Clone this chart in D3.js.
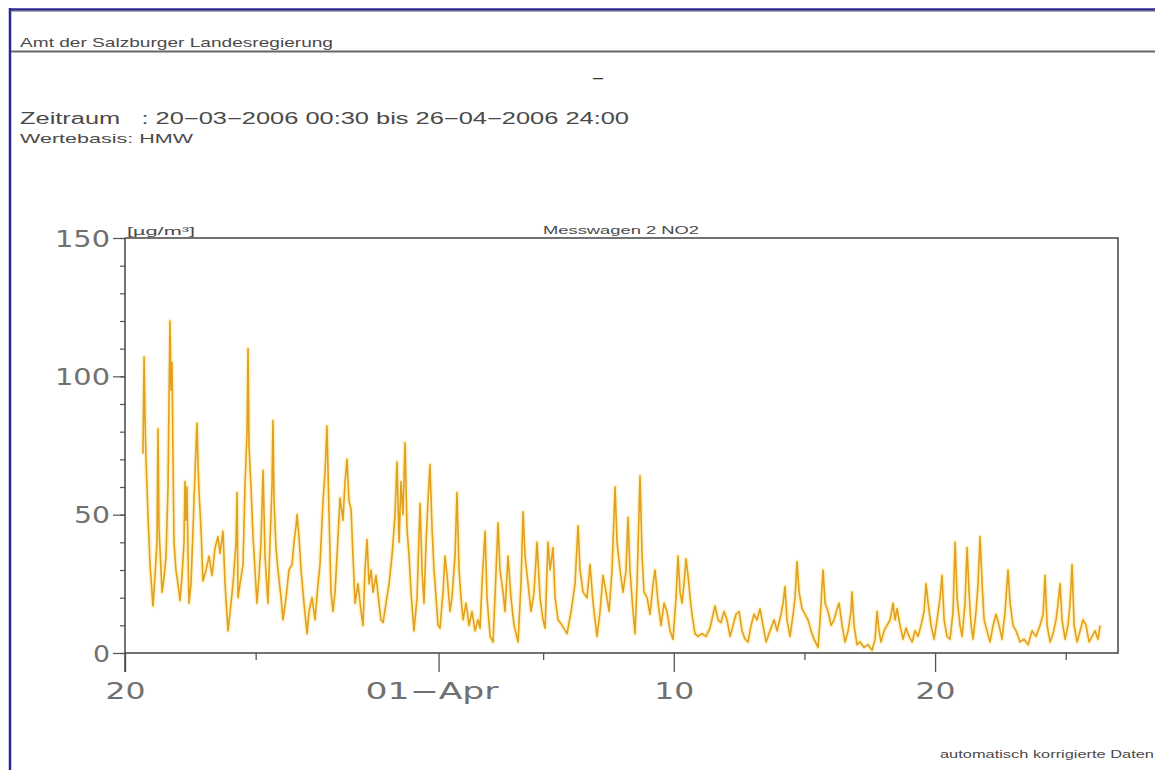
<!DOCTYPE html>
<html>
<head>
<meta charset="utf-8">
<script src="https://cdn.jsdelivr.net/npm/d3@7"></script>
<style>
  body { margin: 0; background: #fff; }
  svg { display: block; font-family: "Liberation Sans", Arial, sans-serif; }
  text { white-space: pre; }
</style>
</head>
<body>
<div id="chart"></div>
<script>
// hours after 20-03-2006 00:00 and NO2 half hour values
var hoursSinceStart = [
  16.5, 17.5, 18.4, 19.3, 21.1, 23.0, 24.8, 25.7, 27.6, 29.4, 30.3, 31.2, 33.1, 34.0, 35.8, 37.7, 39.5, 41.3, 42.3, 43.2,
  44.1, 45.0, 46.8, 48.7, 50.5, 52.4, 54.2, 55.1, 56.0, 56.9, 57.9, 58.8, 60.6, 62.5, 64.3, 66.1, 67.1, 68.0, 69.8, 71.6,
  74.4, 77.2, 79.9, 82.7, 85.4, 87.3, 90.0, 91.9, 94.6, 97.4, 99.2, 102.0, 102.9, 103.8, 105.6, 108.4, 110.2, 112.1, 113.0, 113.9,
  115.7, 117.6, 119.4, 121.2, 123.1, 124.9, 126.8, 128.6, 131.3, 133.2, 135.0, 135.9, 136.9, 138.7, 140.5, 143.3, 145.1, 147.9, 150.6, 153.4,
  155.2, 157.1, 158.0, 159.8, 161.7, 164.4, 167.2, 169.0, 171.8, 174.5, 177.3, 179.1, 181.9, 183.7, 185.5, 187.4, 189.2, 191.0, 192.9, 194.7,
  197.5, 200.2, 202.1, 203.9, 205.7, 207.6, 209.4, 211.3, 214.0, 216.8, 218.6, 220.4, 222.3, 224.1, 226.0, 227.8, 230.5, 233.3, 235.1, 237.0,
  239.7, 242.5, 245.2, 248.0, 249.8, 251.7, 253.5, 255.3, 257.2, 259.0, 260.9, 262.7, 265.4, 268.2, 271.0, 272.8, 274.6, 276.5, 278.3, 280.1,
  282.0, 283.8, 285.7, 287.5, 289.3, 292.1, 293.9, 295.8, 298.5, 300.3, 303.1, 304.9, 306.8, 308.6, 310.5, 313.2, 316.0, 318.7, 321.5, 324.2,
  326.1, 327.9, 330.7, 332.5, 335.3, 338.0, 339.8, 342.6, 344.4, 347.2, 349.0, 351.8, 354.5, 357.3, 361.0, 363.7, 365.6, 367.4, 370.2, 372.9,
  375.7, 378.4, 381.2, 383.9, 385.8, 388.5, 390.4, 393.1, 395.0, 397.7, 401.4, 406.0, 409.7, 413.3, 416.1, 417.9, 420.7, 424.3, 427.1, 429.9,
  433.5, 436.3, 439.0, 441.8, 444.6, 447.3, 450.1, 451.9, 454.7, 457.4, 460.2, 462.0, 463.8, 466.6, 468.4, 470.3, 473.0, 474.9, 476.7, 479.5,
  482.2, 485.0, 486.8, 489.6, 492.3, 495.1, 497.8, 500.6, 503.3, 506.1, 507.9, 509.8, 511.6, 513.4, 515.3, 517.1, 519.0, 520.8, 523.5, 526.3,
  530.0, 533.6, 537.3, 540.1, 541.9, 544.7, 547.4, 550.2, 552.9, 555.7, 558.4, 561.2, 564.0, 566.7, 569.5, 572.2, 575.0, 577.7, 580.5, 583.2,
  586.0, 588.8, 592.4, 596.1, 598.9, 602.5, 604.4, 606.2, 608.0, 610.8, 613.6, 615.4, 617.2, 619.1, 621.8, 624.6, 627.3, 630.1, 632.8, 636.5,
  638.4, 641.1, 643.0, 645.7, 648.5, 651.2, 654.0, 655.8, 658.6, 661.3, 664.1, 666.8, 667.7, 669.6, 672.3, 675.1, 678.8, 682.4, 686.1, 688.9,
  690.7, 692.5, 694.4, 697.1, 699.9, 702.7, 705.4, 707.2, 709.1, 711.8, 714.6, 717.3, 720.1, 722.9, 725.6, 728.4, 731.1, 733.9, 735.7, 737.6,
  740.3, 743.1, 745.8, 748.6, 750.4, 752.3, 755.0, 757.8, 760.5, 762.4, 764.2, 766.9, 768.8, 771.5, 773.4, 775.2, 777.1, 778.9, 781.6, 783.5,
  785.3, 787.2, 789.0, 791.7, 794.5, 797.3, 800.0, 802.8, 805.5, 808.3, 811.0, 812.9, 815.6, 818.4, 822.1, 825.7, 829.4, 833.1, 836.7, 840.4,
  843.2, 845.0, 846.9, 849.6, 852.4, 855.1, 857.0, 858.8, 860.6, 863.4, 866.1, 868.0, 869.8, 871.7, 874.4, 877.2, 879.9, 882.7, 885.4, 888.2,
  890.9, 893.7, 895.5
];
var no2Values = [
  72, 107, 85, 70, 50, 32, 22, 17, 28, 40, 81, 45, 30, 22, 27, 35, 60, 120, 95, 105,
  70, 40, 30, 25, 19, 28, 40, 62, 48, 60, 35, 18, 25, 45, 65, 83, 68, 58, 45, 26,
  30, 35, 28, 38, 42, 36, 44, 25, 8, 18, 25, 40, 58, 20, 25, 32, 60, 80, 110, 75,
  60, 42, 30, 18, 28, 40, 66, 35, 18, 40, 60, 84, 55, 38, 30, 20, 12, 20, 30, 32,
  40, 46, 50, 42, 30, 18, 7, 15, 20, 12, 25, 32, 55, 65, 82, 50, 22, 15, 22, 35,
  56, 48, 62, 70, 55, 52, 35, 18, 25, 15, 10, 30, 41, 25, 30, 22, 28, 18, 12, 11,
  18, 25, 35, 50, 69, 40, 62, 50, 76, 45, 35, 22, 8, 20, 54, 30, 18, 40, 55, 68,
  45, 30, 20, 10, 9, 22, 35, 28, 15, 20, 35, 58, 30, 20, 12, 18, 10, 15, 8, 12,
  9, 25, 44, 20, 6, 4, 20, 47, 30, 22, 15, 35, 20, 10, 4, 25, 51, 35, 25, 15,
  22, 40, 20, 12, 9, 40, 30, 38, 20, 12, 10, 7, 15, 25, 46, 30, 22, 20, 32, 18,
  6, 15, 28, 22, 15, 30, 60, 40, 30, 22, 30, 49, 30, 15, 7, 25, 64, 35, 22, 20,
  14, 25, 30, 18, 10, 18, 15, 8, 5, 20, 35, 22, 18, 25, 34, 28, 20, 14, 7, 6,
  7, 6, 9, 14, 17, 12, 11, 15, 12, 6, 10, 14, 15, 8, 5, 4, 10, 14, 12, 16,
  10, 4, 8, 12, 8, 14, 18, 24, 12, 6, 14, 20, 33, 22, 16, 14, 12, 8, 5, 2,
  12, 30, 18, 15, 10, 12, 16, 18, 10, 4, 8, 15, 22, 10, 3, 4, 2, 3, 1, 5,
  15, 8, 4, 8, 10, 12, 18, 12, 16, 10, 5, 9, 6, 4, 8, 6, 10, 15, 25, 18,
  10, 5, 12, 20, 28, 12, 6, 5, 15, 40, 20, 10, 6, 18, 38, 22, 10, 5, 15, 25,
  42, 25, 12, 8, 4, 10, 14, 10, 5, 15, 30, 18, 10, 8, 4, 5, 3, 8, 6, 10,
  14, 28, 10, 4, 7, 12, 18, 25, 12, 5, 10, 18, 32, 10, 4, 8, 12, 10, 4, 6,
  8, 5, 10
];
var startDate = new Date(2006, 2, 20, 0, 0);
var endDate = new Date(2006, 3, 27, 0, 0);
var xMajorTicks = [new Date(2006, 2, 20), new Date(2006, 3, 1), new Date(2006, 3, 10), new Date(2006, 3, 20)];
var xMinorTicks = [new Date(2006, 2, 25), new Date(2006, 3, 5), new Date(2006, 3, 15), new Date(2006, 3, 25)];
var yMajorTicks = [0, 50, 100, 150];
var yMinorTicks = d3.range(0, 151, 10);

var headerText = "Amt der Salzburger Landesregierung";
var periodText = "Zeitraum   : 20\u221203\u22122006 00:30 bis 26\u221204\u22122006 24:00";
var basisText = "Wertebasis: HMW";
var unitText = "[\u00b5g/m\u00b3]";
var seriesTitle = "Messwagen 2 NO2";
var footerText = "automatisch korrigierte Daten";

(function() {
  var width = 1155, height = 770;
  var margin = {left: 125, right: 37, top: 238, bottom: 117};
  var inkColor = "#555";
  var bigFont = "DejaVu Sans, Verdana, sans-serif";

  var svg = d3.select("#chart").append("svg")
    .attr("width", width)
    .attr("height", height);

  // wide plotter lettering: stretch glyphs to the measured width
  function label(x, y, size, len, txt, anchor) {
    return svg.append("text")
      .attr("x", x).attr("y", y)
      .attr("font-size", size)
      .attr("text-anchor", anchor || "start")
      .attr("textLength", len).attr("lengthAdjust", "spacingAndGlyphs")
      .attr("fill", "#4a4a4a")
      .text(txt);
  }

  // page frame
  svg.append("line")
    .attr("x1", 10).attr("x2", 10).attr("y1", 8).attr("y2", height)
    .attr("stroke", "#2a2a8c").attr("stroke-width", 2.5);
  svg.append("line")
    .attr("x1", 9).attr("x2", width).attr("y1", 9.5).attr("y2", 9.5)
    .attr("stroke", "#2a2a8c").attr("stroke-width", 2.5);
  svg.append("line")
    .attr("x1", 11).attr("x2", width).attr("y1", 11.5).attr("y2", 11.5)
    .attr("stroke", "#aaa").attr("stroke-width", 1);
  svg.append("line")
    .attr("x1", 11).attr("x2", width).attr("y1", 51.5).attr("y2", 51.5)
    .attr("stroke", "#666").attr("stroke-width", 2);

  label(20, 47, 13, 313, headerText);
  svg.append("text")
    .attr("x", 598).attr("y", 83)
    .attr("text-anchor", "middle")
    .attr("font-size", 18)
    .attr("fill", "#333")
    .text("\u2013");
  label(20, 124, 16, 609, periodText);
  label(20, 143, 13, 173, basisText);
  label(1154, 758, 11, 214, footerText, "end");

  // scales
  var x = d3.scaleTime()
    .domain([startDate, endDate])
    .range([margin.left, width - margin.right]);
  var y = d3.scaleLinear()
    .domain([0, 150])
    .range([height - margin.bottom, margin.top]);

  var points = hoursSinceStart.map(function(h, i) {
    return {date: new Date(startDate.getTime() + h * 3600 * 1000), value: no2Values[i]};
  });

  var line = d3.line()
    .x(function(d) { return x(d.date); })
    .y(function(d) { return y(d.value); });

  // soft yellow halo like in the scanned plot, then the series itself
  svg.append("path")
    .datum(points)
    .attr("d", line)
    .attr("fill", "none")
    .attr("stroke", "#ffe27a")
    .attr("stroke-opacity", 0.45)
    .attr("stroke-width", 4.5)
    .attr("stroke-linejoin", "round");
  svg.append("path")
    .datum(points)
    .attr("d", line)
    .attr("fill", "none")
    .attr("stroke", "#e2a020")
    .attr("stroke-width", 1.6)
    .attr("stroke-linejoin", "round");

  // plot box
  var x0 = x(startDate), x1 = x(endDate), y0 = y(0), y1 = y(150);
  svg.append("path")
    .attr("d", "M" + x0 + "," + y1 + "H" + x1 + "V" + y0 + "H" + x0)
    .attr("fill", "none")
    .attr("stroke", "#444")
    .attr("stroke-width", 1.5);

  // x axis
  var xMinor = svg.append("g")
    .attr("transform", "translate(0," + y0 + ")")
    .call(d3.axisBottom(x).tickValues(xMinorTicks).tickSize(7).tickFormat(""));
  var xMajor = svg.append("g")
    .attr("transform", "translate(0," + y0 + ")")
    .call(d3.axisBottom(x).tickValues(xMajorTicks).tickSize(19)
      .tickFormat(function(d) {
        return d.getDate() === 1 ? d3.timeFormat("%d")(d) + "\u2212" + d3.timeFormat("%b")(d) : d3.timeFormat("%d")(d);
      }));
  [xMinor, xMajor].forEach(function(g) {
    g.select(".domain").remove();
    g.selectAll(".tick line").attr("stroke", inkColor).attr("stroke-width", 1.3);
  });
  xMajor.selectAll(".tick text")
    .attr("y", 46).attr("dy", 0)
    .attr("font-size", 23)
    .attr("font-family", bigFont)
    .attr("fill", "#707070")
    .attr("lengthAdjust", "spacingAndGlyphs")
    .attr("textLength", function(d) { return d.getDate() === 1 ? 133 : 40; })
    .attr("dx", function(d) { return d.getDate() === 1 ? -7 : 0; });

  // y axis
  var yMinor = svg.append("g")
    .attr("transform", "translate(" + x0 + ",0)")
    .call(d3.axisLeft(y).tickValues(yMinorTicks).tickSize(5).tickFormat(""));
  var yMajor = svg.append("g")
    .attr("transform", "translate(" + x0 + ",0)")
    .call(d3.axisLeft(y).tickValues(yMajorTicks).tickSize(12).tickPadding(3));
  [yMinor, yMajor].forEach(function(g) {
    g.select(".domain").remove();
    g.selectAll(".tick line").attr("stroke", inkColor).attr("stroke-width", 1.2);
  });
  yMajor.selectAll(".tick text")
    .attr("font-size", 23)
    .attr("font-family", bigFont)
    .attr("fill", "#707070")
    .attr("dy", "0.36em")
    .attr("lengthAdjust", "spacingAndGlyphs")
    .attr("textLength", function(d) { return String(d).length * 19 - 2; });

  // y axis line runs down into the first date tick
  svg.append("line")
    .attr("x1", x0).attr("x2", x0).attr("y1", y1).attr("y2", y0 + 19)
    .attr("stroke", "#444").attr("stroke-width", 1.5);

  label(x0 + 2, y1 - 3, 11, 68, unitText);
  label(621, y1 - 4, 11, 156, seriesTitle, "middle");
})();
</script>
</body>
</html>
